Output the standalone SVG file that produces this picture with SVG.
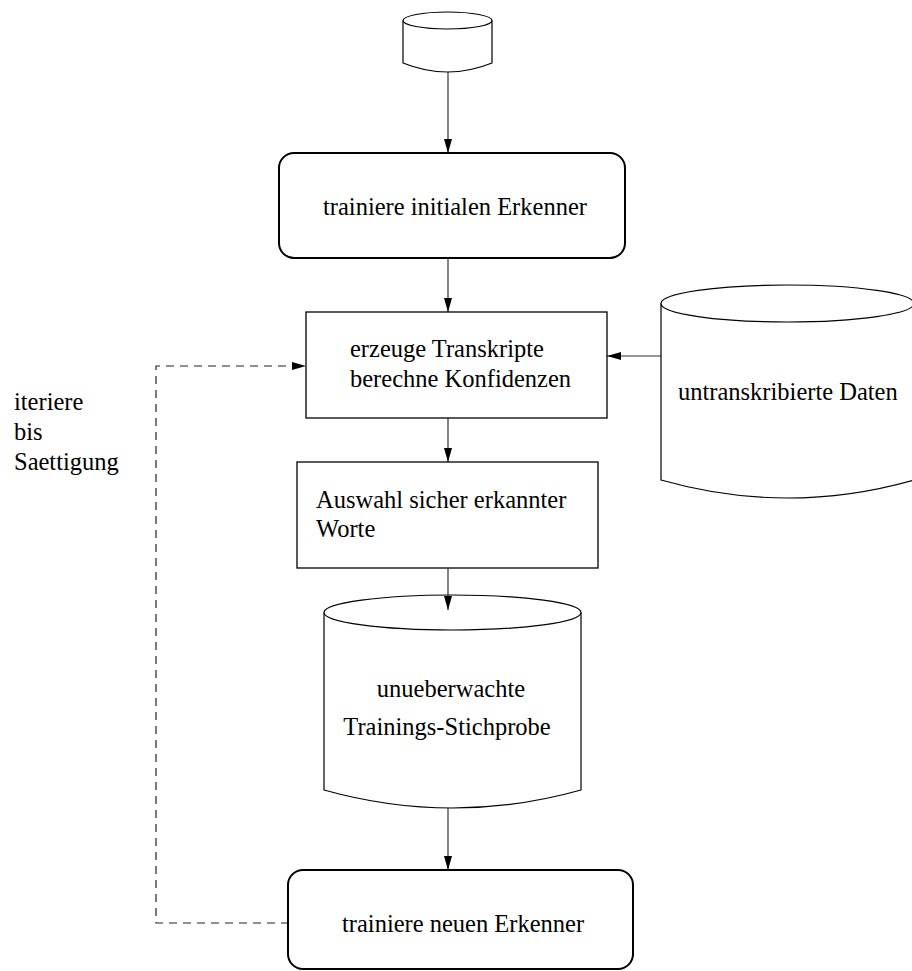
<svg xmlns="http://www.w3.org/2000/svg" width="912" height="971" viewBox="0 0 912 971">
  <style>
    .lbl { font-family: "Liberation Serif", "Times New Roman", serif; font-size: 24.5px; fill: #000; }
    .mid { text-anchor: middle; }
    .box { fill: #fff; stroke: #000; stroke-width: 1.3; }
    .rbox { fill: #fff; stroke: #000; stroke-width: 2; }
    .db { fill: #fff; stroke: #000; stroke-width: 1.2; }
    .edge { fill: none; stroke: #333; stroke-width: 1.2; }
    .dash { stroke: #222; stroke-dasharray: 8 6; }
  </style>
  <defs>
    <marker id="arrow" markerUnits="userSpaceOnUse" markerWidth="14" markerHeight="8" refX="14" refY="4" orient="auto">
      <path d="M0,0 L14,4 L0,8 z" fill="#000"/>
    </marker>
  </defs>
  <rect width="912" height="971" fill="#fff"/>

  <!-- connectors -->
  <g id="connectors">
    <line class="edge" x1="448" y1="72" x2="448" y2="153" marker-end="url(#arrow)"/>
    <line class="edge" x1="448" y1="258" x2="448" y2="312" marker-end="url(#arrow)"/>
    <line class="edge" x1="661" y1="356" x2="607" y2="356" marker-end="url(#arrow)"/>
    <line class="edge" x1="448" y1="418" x2="448" y2="462" marker-end="url(#arrow)"/>
    <line class="edge" x1="448" y1="808" x2="448" y2="870" marker-end="url(#arrow)"/>
    <polyline class="edge dash" points="289,923 156,923 156,366 306,366" marker-end="url(#arrow)"/>
  </g>

  <!-- source database -->
  <g id="db-source">
    <path class="db" d="M403,20.5 L403,63 Q447.5,81 492,63 L492,20.5"/>
    <ellipse class="db" cx="447.5" cy="20.5" rx="44.5" ry="8.5"/>
  </g>

  <g id="train-initial">
    <rect class="rbox" x="279" y="153" width="346" height="105" rx="15" ry="15"/>
    <text class="lbl" x="323" y="215">trainiere initialen Erkenner</text>
  </g>

  <g id="transcribe">
    <rect class="box" x="306" y="312" width="301" height="106"/>
    <text class="lbl" x="350" y="357">erzeuge Transkripte</text>
    <text class="lbl" x="350" y="387">berechne Konfidenzen</text>
  </g>

  <g id="db-untranscribed">
    <path class="db" d="M661,303.5 L661,480 Q787.5,516 914,480 L914,303.5"/>
    <ellipse class="db" cx="787.5" cy="303.5" rx="126.5" ry="18.5"/>
    <text class="lbl" x="678" y="400">untranskribierte Daten</text>
  </g>

  <g id="select">
    <rect class="box" x="297" y="462" width="301" height="106"/>
    <text class="lbl" x="316" y="508">Auswahl sicher erkannter</text>
    <text class="lbl" x="316" y="537">Worte</text>
  </g>

  <!-- the arrow into this store ends inside its lid, so draw it on top -->
  <g id="db-unsupervised">
    <path class="db" d="M324,612.5 L324,790 Q452.5,826 581,790 L581,612.5"/>
    <ellipse class="db" cx="452.5" cy="612.5" rx="128.5" ry="17.5"/>
    <text class="lbl mid" x="451" y="697">unueberwachte</text>
    <text class="lbl mid" x="447" y="735">Trainings-Stichprobe</text>
  </g>
  <line class="edge" x1="448" y1="568" x2="448" y2="610" marker-end="url(#arrow)"/>

  <g id="train-new">
    <rect class="rbox" x="288" y="870" width="345" height="99" rx="15" ry="15"/>
    <text class="lbl" x="342" y="932">trainiere neuen Erkenner</text>
  </g>

  <g id="loop-label">
    <text class="lbl" x="14" y="410">iteriere</text>
    <text class="lbl" x="14" y="440">bis</text>
    <text class="lbl" x="14" y="470">Saettigung</text>
  </g>
</svg>
